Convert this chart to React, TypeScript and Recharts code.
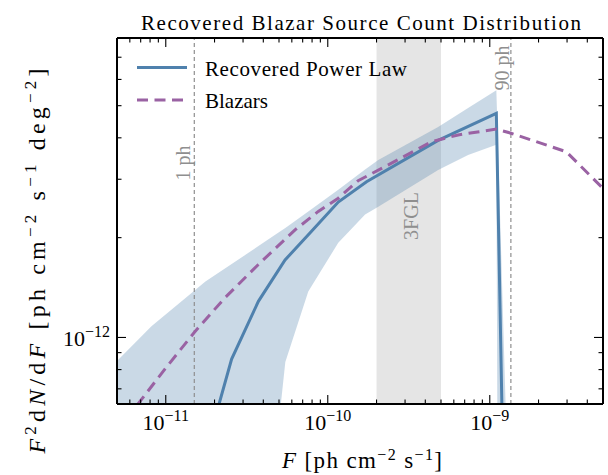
import React from "react";
import {
  ComposedChart,
  Line,
  Area,
  XAxis,
  YAxis,
  ReferenceLine,
  ReferenceArea,
  Customized,
} from "recharts";

// recovered power law, F^2 dN/dF vs F
const powerFlux = [2.05e-11, 2.55e-11, 3.73e-11, 5.45e-11, 7.94e-11, 1.161e-10, 1.735e-10, 4.8e-10, 1.098e-9, 1.191e-9];
const powerValue = [5.88e-13, 8.61e-13, 1.285e-12, 1.713e-12, 2.09e-12, 2.56e-12, 2.95e-12, 3.93e-12, 4.74e-12, 5.88e-13];

// blazar model (dashed)
const blazarFlux = [
  5.72e-12, 1.0e-11, 1.503e-11, 2.32e-11, 3.73e-11, 6.28e-11, 8.74e-11, 1.161e-10, 1.54e-10,
  2.46e-10, 4.35e-10, 6.37e-10, 1.098e-9, 1.353e-9, 2.97e-9, 4.88e-9, 6.18e-9,
];
const blazarValue = [
  5.68e-13, 8.09e-13, 1.037e-12, 1.318e-12, 1.66e-12, 2.11e-12, 2.4e-12, 2.63e-12, 2.97e-12,
  3.35e-12, 3.89e-12, 4.08e-12, 4.25e-12, 4.13e-12, 3.63e-12, 2.85e-12, 2.51e-12,
];

// uncertainty band of the recovered power law
const bandFlux = [
  4.92e-12, 8.16e-12, 1.757e-11, 3.24e-11, 5.02e-11, 5.47e-11, 7.58e-11, 1.161e-10, 1.7e-10,
  2.05e-10, 4.8e-10, 7.35e-10, 1.098e-9, 1.117e-9, 1.26e-9,
];
const bandLow = [
  4e-13, 4e-13, 4e-13, 4e-13, 5.69e-13, 8.43e-13, 1.377e-12, 1.93e-12, 2.35e-12,
  2.48e-12, 3.2e-12, 3.55e-12, 3.81e-12, 4e-13, 4e-13,
];
const bandHigh = [
  8.43e-13, 1.081e-12, 1.476e-12, 1.8e-12, 2.08e-12, 2.14e-12, 2.4e-12, 2.79e-12, 3.21e-12,
  3.43e-12, 4.31e-12, 4.92e-12, 5.57e-12, 4.2e-12, 5.69e-13,
];

const xMajor = [1e-11, 1e-10, 1e-9];
const xMinor = [
  6e-12, 7e-12, 8e-12, 9e-12, 2e-11, 3e-11, 4e-11, 5e-11, 6e-11, 7e-11, 8e-11, 9e-11,
  2e-10, 3e-10, 4e-10, 5e-10, 6e-10, 7e-10, 8e-10, 9e-10, 2e-9, 3e-9, 4e-9,
];
const yMajor = [1e-12];
const yMinor = [7e-13, 8e-13, 9e-13, 2e-12, 3e-12, 4e-12, 5e-12, 6e-12, 7e-12];

const onePh = 1.5e-11;
const ninetyPh = 1.35e-9;
const fglRange = [2e-10, 5e-10];

const SERIF = "'Liberation Serif', 'DejaVu Serif', serif";
const BLUE = "#4f81ad";
const PURPLE = "#9a62a3";
const GUIDE = "#8f8f8f";

const powerData = powerFlux.map((f, i) => ({ f, v: powerValue[i] }));
const blazarData = blazarFlux.map((f, i) => ({ f, v: blazarValue[i] }));
const bandData = bandFlux.map((f, i) => ({ f, band: [bandLow[i], bandHigh[i]] }));

const xTicks = [...xMinor, ...xMajor].sort((a, b) => a - b);
const yTicks = [...yMinor, ...yMajor].sort((a, b) => a - b);

const isMajor = (v: number) => Math.abs(Math.log10(v) - Math.round(Math.log10(v))) < 1e-6;
const expOf = (v: number) => "\u2212" + Math.abs(Math.round(Math.log10(v)));

const makeTick = (side: string) => (props: any) => {
  const { x, y, payload } = props;
  const v = payload.value;
  const major = isMajor(v);
  const len = major ? 9 : 4.5;
  let l = { x1: x, x2: x, y1: y, y2: y };
  if (side === "bottom") l.y2 = y - len;
  if (side === "top") l.y2 = y + len;
  if (side === "left") l.x2 = x + len;
  if (side === "right") l.x2 = x - len;
  return (
    <g>
      <line {...l} stroke="#000" strokeWidth={1.1} />
      {major && side === "bottom" && (
        <text x={x} y={y + 26} textAnchor="middle" fontFamily={SERIF} fontSize={22} fill="#000">
          10<tspan dy={-9} fontSize={16}>{expOf(v)}</tspan>
        </text>
      )}
      {major && side === "left" && (
        <text x={x - 7} y={y + 9} textAnchor="end" fontFamily={SERIF} fontSize={22} fill="#000">
          10<tspan dy={-9} fontSize={16}>{expOf(v)}</tspan>
        </text>
      )}
    </g>
  );
};

const vLabel = (text: string, dx: number, cy: number, color: string) => (props: any) => {
  const vb = props.viewBox;
  return (
    <text
      transform={`translate(${vb.x + dx},${cy}) rotate(-90)`}
      textAnchor="middle"
      fontFamily={SERIF}
      fontSize={20}
      fill={color}
    >
      {text}
    </text>
  );
};

const Annotations = () => (
  <g fontFamily={SERIF} fill="#000">
    <text x={361} y={30} textAnchor="middle" fontSize={21} textLength={440} lengthAdjust="spacing">
      Recovered Blazar Source Count Distribution
    </text>
    <text x={362} y={468} textAnchor="middle" fontSize={23} textLength={160} lengthAdjust="spacing">
      <tspan fontStyle="italic">F</tspan>
      <tspan> [ph cm</tspan>
      <tspan dy={-8} fontSize={16}>{"\u22122"}</tspan>
      <tspan dy={8}> s</tspan>
      <tspan dy={-8} fontSize={16}>{"\u22121"}</tspan>
      <tspan dy={8}>]</tspan>
    </text>
    <text
      transform="translate(45,261) rotate(-90)"
      textAnchor="middle"
      fontSize={24}
      textLength={385}
      lengthAdjust="spacing"
    >
      <tspan fontStyle="italic">F</tspan>
      <tspan dy={-9} fontSize={17}>2</tspan>
      <tspan dy={9}>d</tspan>
      <tspan fontStyle="italic">N</tspan>
      <tspan>/d</tspan>
      <tspan fontStyle="italic">F</tspan>
      <tspan> [ph cm</tspan>
      <tspan dy={-9} fontSize={17}>{"\u22122"}</tspan>
      <tspan dy={9}> s</tspan>
      <tspan dy={-9} fontSize={17}>{"\u22121"}</tspan>
      <tspan dy={9}> deg</tspan>
      <tspan dy={-9} fontSize={17}>{"\u22122"}</tspan>
      <tspan dy={9}>]</tspan>
    </text>
    <line x1={137} x2={187} y1={67.5} y2={67.5} stroke={BLUE} strokeWidth={3} />
    <text x={205} y={76} fontSize={21} textLength={202} lengthAdjust="spacing">
      Recovered Power Law
    </text>
    <line x1={137} x2={187} y1={100} y2={100} stroke={PURPLE} strokeWidth={3} strokeDasharray="11 6.5" />
    <text x={205} y={108} fontSize={21}>Blazars</text>
  </g>
);

export default function App() {
  return (
    <div style={{ position: "absolute", left: 0, top: 0, width: 608, height: 475, background: "#fff" }}>
      <ComposedChart width={608} height={475} margin={{ top: 37, right: 4, bottom: 0, left: 0 }}>
        <XAxis
          xAxisId={0}
          dataKey="f"
          type="number"
          scale="log"
          domain={[5e-12, 5e-9]}
          allowDataOverflow
          ticks={xTicks}
          interval={0}
          height={71}
          tickSize={0}
          tickMargin={0}
          tickLine={false}
          axisLine={{ stroke: "#000", strokeWidth: 2 }}
          tick={makeTick("bottom")}
        />
        <XAxis
          xAxisId="top"
          orientation="top"
          dataKey="f"
          type="number"
          scale="log"
          domain={[5e-12, 5e-9]}
          allowDataOverflow
          ticks={xTicks}
          interval={0}
          height={1}
          tickSize={0}
          tickMargin={0}
          tickLine={false}
          axisLine={{ stroke: "#000", strokeWidth: 2 }}
          tick={makeTick("top")}
        />
        <YAxis
          yAxisId={0}
          type="number"
          scale="log"
          domain={[6.3e-13, 8e-12]}
          allowDataOverflow
          ticks={yTicks}
          interval={0}
          width={117}
          tickSize={0}
          tickMargin={0}
          tickLine={false}
          axisLine={{ stroke: "#000", strokeWidth: 2 }}
          tick={makeTick("left")}
        />
        <YAxis
          yAxisId="right"
          orientation="right"
          type="number"
          scale="log"
          domain={[6.3e-13, 8e-12]}
          allowDataOverflow
          ticks={yTicks}
          interval={0}
          width={1}
          tickSize={0}
          tickMargin={0}
          tickLine={false}
          axisLine={{ stroke: "#000", strokeWidth: 2 }}
          tick={makeTick("right")}
        />
        <ReferenceArea
          x1={fglRange[0]}
          x2={fglRange[1]}
          fill="#000"
          fillOpacity={0.1}
          stroke="none"
          label={vLabel("3FGL", 41, 216, GUIDE)}
        />
        <Area
          data={bandData}
          dataKey="band"
          type="linear"
          stroke="none"
          fill={BLUE}
          fillOpacity={0.3}
          isAnimationActive={false}
        />
        <ReferenceLine
          x={onePh}
          stroke={GUIDE}
          strokeWidth={1.2}
          strokeDasharray="4 3"
          label={vLabel("1 ph", -4, 163, GUIDE)}
        />
        <ReferenceLine
          x={ninetyPh}
          stroke={GUIDE}
          strokeWidth={1.2}
          strokeDasharray="4 3"
          label={vLabel("90 ph", -2, 68, GUIDE)}
        />
        <Line
          data={powerData}
          dataKey="v"
          type="linear"
          stroke={BLUE}
          strokeWidth={3}
          dot={false}
          isAnimationActive={false}
        />
        <Line
          data={blazarData}
          dataKey="v"
          type="linear"
          stroke={PURPLE}
          strokeWidth={3}
          strokeDasharray="11 6.5"
          dot={false}
          isAnimationActive={false}
        />
        <Customized component={Annotations} />
      </ComposedChart>
    </div>
  );
}
